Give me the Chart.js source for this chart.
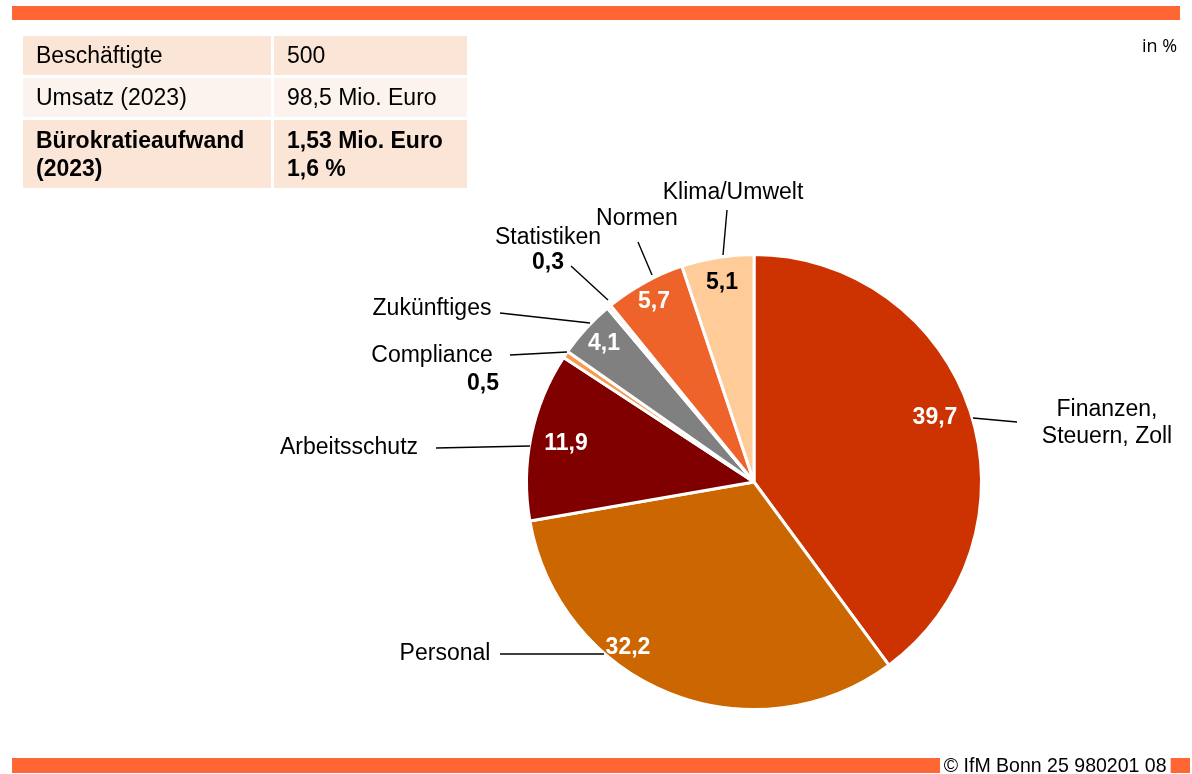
<!DOCTYPE html>
<html>
<head>
<meta charset="utf-8">
<script src="https://cdn.jsdelivr.net/npm/chart.js@4/dist/chart.umd.min.js"></script>
<style>
  html, body { margin:0; padding:0; background:#fff; }
  #wrap { position:relative; width:1192px; height:774px; overflow:hidden; font-family:"Liberation Sans", Arial, sans-serif; color:#000; }
  #c { position:absolute; left:0; top:0; }
  .bar { position:absolute; background:#FF6633; }
  table { position:absolute; left:20px; top:33px; border-collapse:separate; border-spacing:3px; font-size:23px; }
  td { padding:0 0 0 13px; vertical-align:middle; white-space:nowrap; }
  .r1 td { background:#FBE5D6; height:39px; }
  .r2 td { background:#FDF3EE; height:39px; }
  .r3 td { background:#FBE5D6; height:68px; font-weight:bold; line-height:28px; }
  #unit { position:absolute; left:1142px; top:33px; font-family:"Open Sans", sans-serif; font-size:18px; }
  #copy { position:absolute; left:940px; top:754px; font-family:"Liberation Sans Narrow", "Liberation Sans", sans-serif; font-size:21px; line-height:21px; background:#fff; padding:0 4px; transform:scaleX(0.93); transform-origin:left top; }
</style>
</head>
<body>
<div id="wrap">
  <canvas id="c" width="1192" height="774"></canvas>
  <div class="bar" style="left:12px;top:6px;width:1168px;height:14px;"></div>
  <table>
    <tr class="r1"><td style="width:235px">Beschäftigte</td><td style="width:180px">500</td></tr>
    <tr class="r2"><td>Umsatz (2023)</td><td>98,5 Mio. Euro</td></tr>
    <tr class="r3"><td>Bürokratieaufwand<br>(2023)</td><td>1,53 Mio. Euro<br>1,6 %</td></tr>
  </table>
  <div id="unit">in %</div>
  <div class="bar" style="left:12px;top:758px;width:1178px;height:15px;"></div>
  <div id="copy">© IfM Bonn 25 980201 08</div>
</div>
<script>
// ---- data ----
const categories = ["Finanzen, Steuern, Zoll", "Personal", "Arbeitsschutz", "Compliance", "Zukünftiges", "Statistiken", "Normen", "Klima/Umwelt"];
const labelLines = [["Finanzen,", "Steuern, Zoll"], ["Personal"], ["Arbeitsschutz"], ["Compliance"], ["Zukünftiges"], ["Statistiken"], ["Normen"], ["Klima/Umwelt"]];
const values = [39.7, 32.2, 11.9, 0.5, 4.1, 0.3, 5.7, 5.1];
const valueLabels = ["39,7", "32,2", "11,9", "0,5", "4,1", "0,3", "5,7", "5,1"];

// ---- styles / layout (offsets from pie centre, px) ----
const colors = ["#CC3300", "#CC6600", "#800000", "#F79A50", "#808080", "#F2F2F2", "#EE6329", "#FFCC99"];
const valueColors = ["#fff", "#fff", "#fff", "#000", "#fff", "#000", "#fff", "#000"];
const layout = [
  { label:[353,-72], lh:27, line:[[219,-64],[263,-60]], value:[181,-64] },
  { label:[-309,172], lh:27, line:[[-254,172],[-150,172]], value:[-126,166] },
  { label:[-405,-34], lh:27, line:[[-318,-34],[-224,-36]], value:[-188,-38] },
  { label:[-322,-126], lh:27, line:[[-244,-127],[-187,-130]], value:[-271,-98] },
  { label:[-322,-173], lh:27, line:[[-254,-169],[-164,-159]], value:[-150,-138] },
  { label:[-206,-244], lh:27, line:[[-183,-216],[-146,-182]], value:[-206,-219] },
  { label:[-117,-263], lh:27, line:[[-116,-240],[-102,-207]], value:[-100,-180] },
  { label:[-21,-289], lh:27, line:[[-27,-272],[-31,-227]], value:[-32,-199] }
];

const labelPlugin = {
  id: 'pieLabels',
  afterDatasetsDraw(chart) {
    const ctx = chart.ctx;
    const meta = chart.getDatasetMeta(0);
    const arc0 = meta.data[0];
    const cx = arc0.x, cy = arc0.y;
    ctx.save();
    meta.data.forEach((arc, i) => {
      const L = layout[i];
      ctx.strokeStyle = '#000';
      ctx.lineWidth = 1.4;
      ctx.beginPath();
      ctx.moveTo(cx + L.line[0][0], cy + L.line[0][1]);
      ctx.lineTo(cx + L.line[1][0], cy + L.line[1][1]);
      ctx.stroke();
      ctx.fillStyle = '#000';
      ctx.font = '23px "Liberation Sans", Arial, sans-serif';
      ctx.textAlign = 'center';
      ctx.textBaseline = 'middle';
      labelLines[i].forEach((t, k) => {
        ctx.fillText(t, cx + L.label[0], cy + L.label[1] + k * L.lh);
      });
      ctx.font = 'bold 23px "Liberation Sans", Arial, sans-serif';
      ctx.fillStyle = valueColors[i];
      ctx.fillText(valueLabels[i], cx + L.value[0], cy + L.value[1]);
    });
    ctx.restore();
  }
};

new Chart(document.getElementById('c'), {
  type: 'pie',
  data: {
    labels: categories,
    datasets: [{
      data: values,
      backgroundColor: colors,
      borderColor: '#ffffff',
      borderWidth: 3
    }]
  },
  options: {
    responsive: false,
    animation: false,
    rotation: 0,
    layout: { padding: { left: 525, right: 209, top: 253, bottom: 63 } },
    plugins: { legend: { display: false }, tooltip: { enabled: false } }
  },
  plugins: [labelPlugin]
});
</script>
</body>
</html>
